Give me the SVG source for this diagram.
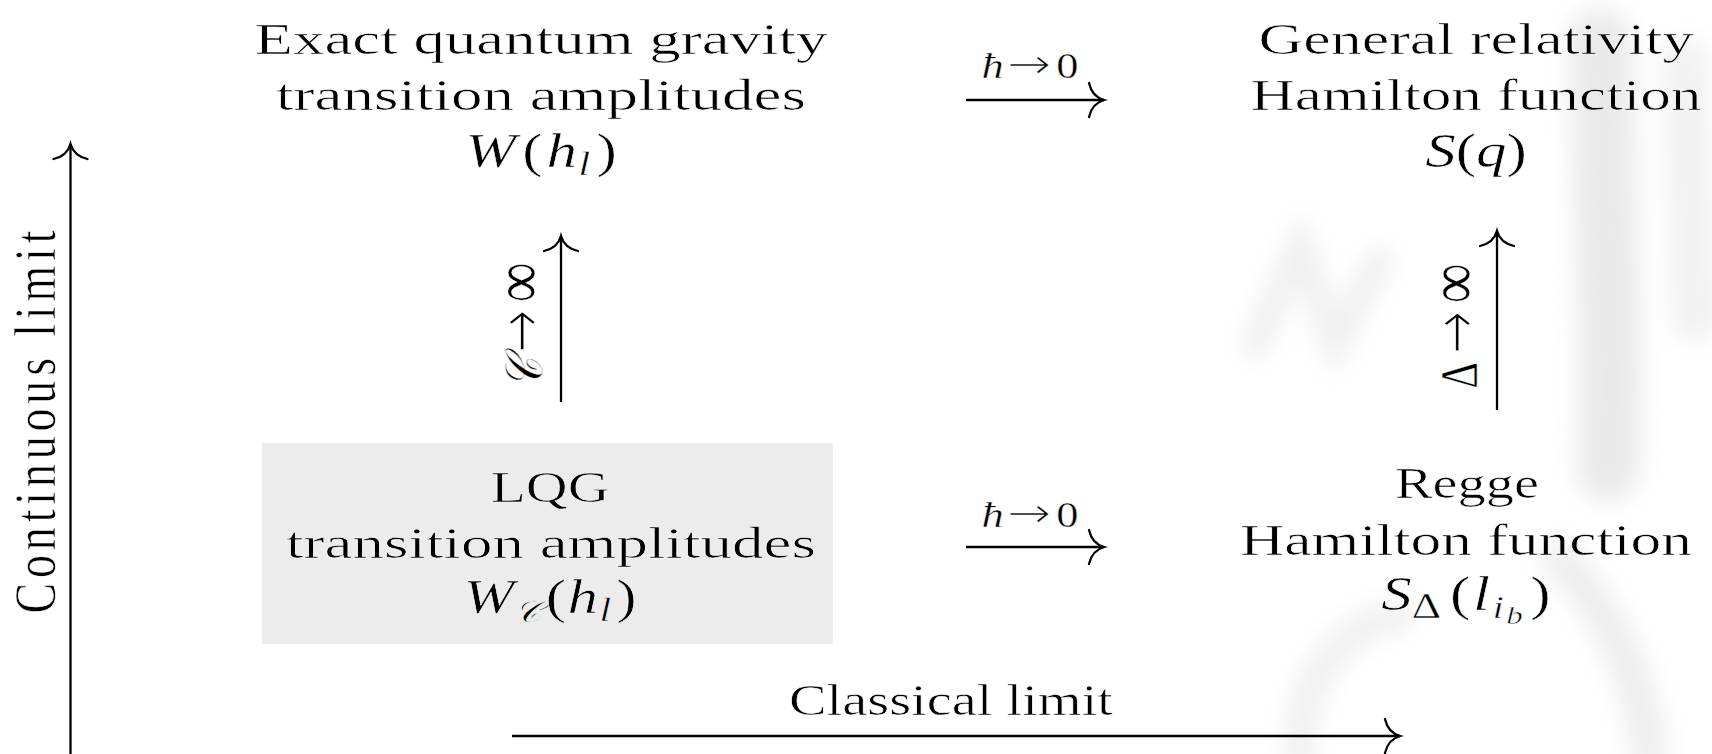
<svg xmlns="http://www.w3.org/2000/svg" width="1712" height="754" viewBox="0 0 1712 754">
<style>
  text { font-family: "Liberation Serif", "DejaVu Serif", serif; fill: #000; }
  .main { font-size: 45px; stroke: #fff; stroke-width: 0.6px; }
  .math { font-size: 48px; stroke: #fff; stroke-width: 0.5px; }
  .lbl { font-size: 35px; stroke: #fff; stroke-width: 0.4px; }
  .it { font-style: italic; }
  .arr { font-family: "DejaVu Sans ExtraLight", "DejaVu Sans", sans-serif; font-weight: 200; font-style: normal; }
  .line { fill: none; stroke: #000; stroke-width: 2.3; }
  .wm { fill: none; stroke-linecap: round; }
</style>
<defs>
  <marker id="head" viewBox="0 0 40 40" refX="20" refY="20" markerWidth="40" markerHeight="40" markerUnits="userSpaceOnUse" orient="auto">
    <path d="M5,3 C7,12 13,18 20,20 C13,22 7,28 5,37" fill="none" stroke="#000" stroke-width="2.3" stroke-linecap="round"/>
  </marker>
  <filter id="blur" filterUnits="userSpaceOnUse" x="0" y="0" width="1712" height="754"><feGaussianBlur stdDeviation="12"/></filter>
</defs>
<rect width="1712" height="754" fill="#ffffff"/>

<g id="watermark" filter="url(#blur)">
  <path class="wm" d="M1600,40 C1605,180 1612,330 1608,470" stroke="#e9e9e9" stroke-width="62"/>
  <path class="wm" d="M1685,60 L1695,320" stroke="#f1f1f1" stroke-width="44"/>
  <path class="wm" d="M1255,345 L1300,245 L1335,345 L1380,260" stroke="#efefef" stroke-width="26"/>
  <path class="wm" d="M1300,754 C1298,690 1330,630 1400,615" stroke="#efefef" stroke-width="30"/>
  <path class="wm" d="M1560,560 C1610,610 1640,680 1650,754" stroke="#ededed" stroke-width="36"/>
</g>

<g id="node-exact">
  <text class="main" x="541" y="54" text-anchor="middle" textLength="573" lengthAdjust="spacingAndGlyphs">Exact quantum gravity</text>
  <text class="main" x="541" y="110" text-anchor="middle" textLength="530" lengthAdjust="spacingAndGlyphs">transition amplitudes</text>
  <text class="math" transform="translate(541,167) scale(1.27,1)" x="0" y="0" text-anchor="middle"><tspan class="it">W</tspan><tspan dx="5">(</tspan><tspan class="it" dx="3">h</tspan><tspan class="it" font-size="34" dy="8" dx="1">l</tspan><tspan dy="-8" dx="5">)</tspan></text>
</g>

<g id="node-gr">
  <text class="main" x="1476" y="54" text-anchor="middle" textLength="435" lengthAdjust="spacingAndGlyphs">General relativity</text>
  <text class="main" x="1476" y="110" text-anchor="middle" textLength="451" lengthAdjust="spacingAndGlyphs">Hamilton function</text>
  <text class="math" transform="translate(1476,167) scale(1.27,1)" x="0" y="0" text-anchor="middle"><tspan class="it">S</tspan>(<tspan class="it">q</tspan>)</text>
</g>

<g id="node-lqg">
  <rect x="262" y="443" width="571" height="201" fill="#ececec"/>
  <text class="main" x="550" y="502" text-anchor="middle" textLength="119" lengthAdjust="spacingAndGlyphs" stroke="#ececec">LQG</text>
  <text class="main" x="551" y="558" text-anchor="middle" textLength="530" lengthAdjust="spacingAndGlyphs" stroke="#ececec">transition amplitudes</text>
  <text class="math" transform="translate(550,613) scale(1.27,1)" x="0" y="0" text-anchor="middle" stroke="#ececec"><tspan class="it">W</tspan><tspan class="it" font-size="30" dy="9">𝒞</tspan><tspan dy="-9" dx="3">(</tspan><tspan class="it" dx="1">h</tspan><tspan class="it" font-size="34" dy="8" dx="1">l</tspan><tspan dy="-8" dx="4">)</tspan></text>
</g>

<g id="node-regge">
  <text class="main" x="1467" y="498" text-anchor="middle" textLength="144" lengthAdjust="spacingAndGlyphs">Regge</text>
  <text class="main" x="1466" y="555" text-anchor="middle" textLength="452" lengthAdjust="spacingAndGlyphs">Hamilton function</text>
  <text class="math" transform="translate(1466,610) scale(1.27,1)" x="0" y="0" text-anchor="middle"><tspan class="it">S</tspan><tspan font-size="36" dy="8">Δ</tspan><tspan dy="-8" dx="7">(</tspan><tspan class="it" dx="2">l</tspan><tspan class="it" font-size="32" dy="8" dx="2">i</tspan><tspan class="it" font-size="26" dy="6" dx="2">b</tspan><tspan dy="-14" dx="6">)</tspan></text>
</g>

<g id="connectors">
  <line class="line" x1="966" y1="100" x2="1104" y2="100" marker-end="url(#head)"/>
  <text class="lbl" transform="translate(1030,78) scale(1.27,1)" x="0" y="0" text-anchor="middle"><tspan class="it">ħ</tspan><tspan class="arr" font-size="41" dx="3">→</tspan><tspan dx="4">0</tspan></text>

  <line class="line" x1="966" y1="547" x2="1104" y2="547" marker-end="url(#head)"/>
  <text class="lbl" transform="translate(1030,527) scale(1.27,1)" x="0" y="0" text-anchor="middle"><tspan class="it">ħ</tspan><tspan class="arr" font-size="41" dx="3">→</tspan><tspan dx="4">0</tspan></text>

  <line class="line" x1="561" y1="402" x2="561" y2="236" marker-end="url(#head)"/>
  <text font-size="41" transform="translate(542,325) scale(1.27,1) rotate(-90)" x="0" y="0" text-anchor="middle" stroke="#fff" stroke-width="0.4"><tspan class="it">𝒞</tspan><tspan class="arr" font-size="50" dx="6">→</tspan><tspan font-size="56" dx="8">∞</tspan></text>

  <line class="line" x1="1497" y1="410" x2="1497" y2="231" marker-end="url(#head)"/>
  <text font-size="41" transform="translate(1477,326) scale(1.27,1) rotate(-90)" x="0" y="0" text-anchor="middle" stroke="#fff" stroke-width="0.4">Δ<tspan class="arr" font-size="50" dx="9">→</tspan><tspan font-size="56" dx="8">∞</tspan></text>
</g>

<g id="axes">
  <line class="line" x1="70.5" y1="760" x2="70.5" y2="144" marker-end="url(#head)"/>
  <text font-size="46" transform="translate(55,422) scale(1.27,1) rotate(-90)" x="0" y="0" text-anchor="middle" textLength="383" lengthAdjust="spacing" stroke="#fff" stroke-width="0.5">Continuous limit</text>

  <line class="line" x1="512" y1="736" x2="1400" y2="736" marker-end="url(#head)"/>
  <text class="main" x="951" y="715" text-anchor="middle" textLength="324" lengthAdjust="spacingAndGlyphs">Classical limit</text>
</g>
</svg>
